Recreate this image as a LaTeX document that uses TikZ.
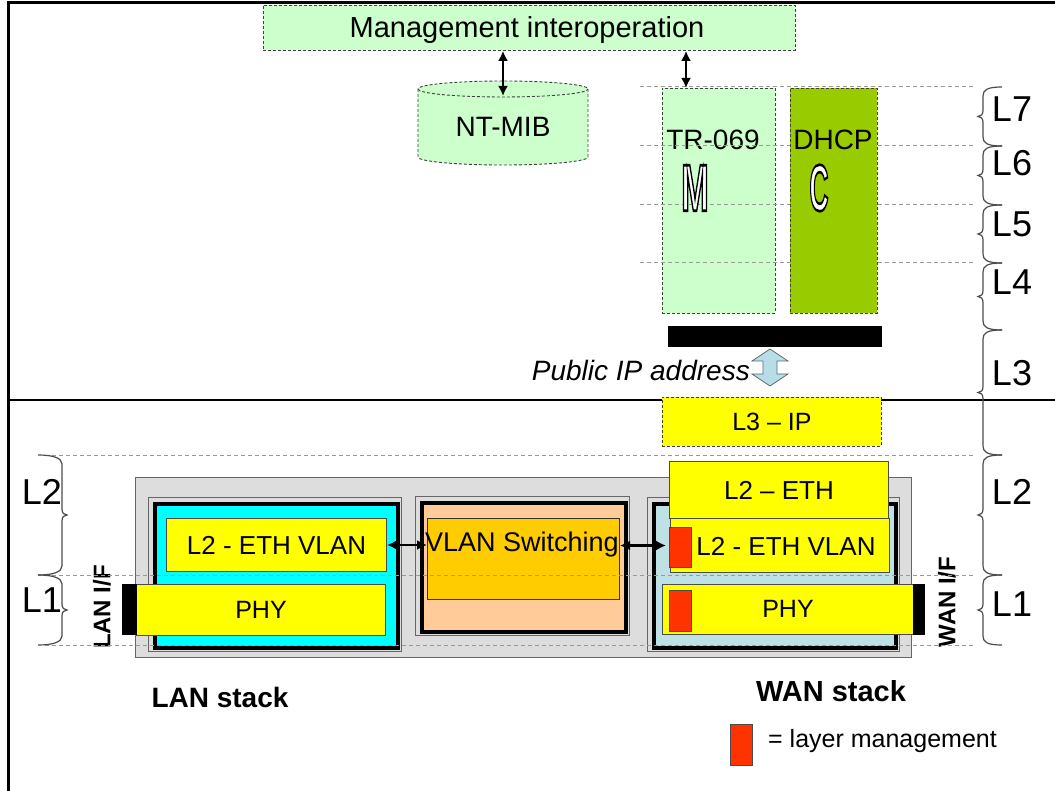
\documentclass[tikz,border=0pt]{standalone}
\usepackage{fontspec}
\setmainfont{Liberation Sans}
\usetikzlibrary{arrows.meta,calc}
\definecolor{lgreen}{HTML}{CCFFCC}
\definecolor{dgreen}{HTML}{99CC00}
\definecolor{yel}{HTML}{FFFF00}
\definecolor{cyanf}{HTML}{00FFFF}
\definecolor{peach}{HTML}{FFCC99}
\definecolor{goldf}{HTML}{FFCC00}
\definecolor{wanblue}{HTML}{BDE1E4}
\definecolor{boxgray}{HTML}{DDDDDD}
\definecolor{mred}{HTML}{FF3300}
\definecolor{fatblue}{HTML}{B7DDE8}
\definecolor{guide}{HTML}{999999}
\newcommand\myrbrace[2]{%
 \pgfmathsetmacro\bm{(#1+#2)/2}%
 \draw[brc] (1002,#1) .. controls (987,#1) and (983,#1+3) .. (983,#1+9) -- (983,\bm-6) .. controls (983,\bm-2) and (981,\bm) .. (978,\bm) .. controls (981,\bm) and (983,\bm+2) .. (983,\bm+6) -- (983,#2-9) .. controls (983,#2-3) and (987,#2) .. (1002,#2);}
\newcommand\mylbrace[2]{%
 \pgfmathsetmacro\bm{(#1+#2)/2}%
 \draw[brc] (38,#1) .. controls (53,#1) and (62,#1+3) .. (62,#1+9) -- (62,\bm-6) .. controls (62,\bm-2) and (64,\bm) .. (67,\bm) .. controls (64,\bm) and (62,\bm+2) .. (62,\bm+6) -- (62,#2-9) .. controls (62,#2-3) and (53,#2) .. (38,#2);}
\newcommand\outlinedletter[1]{\special{pdf:literal direct 2 Tr 2.6 w 1 g 0 G}#1\special{pdf:literal direct 0 Tr 1 w 0 g 0 G}}
\tikzset{
 box/.style={draw, inner sep=0pt, anchor=north west},
 dbox/.style={box, draw=black!75, dash pattern=on 3pt off 2pt, line width=0.9pt},
 ybox/.style={box, fill=yel, draw=black!70, line width=1pt},
 thinframe/.style={box, draw=black!60, line width=1pt},
 thickframe/.style={box, draw=black, line width=4pt},
 redsq/.style={box, fill=mred, draw=black!70, line width=1pt},
 blk/.style={box, fill=black, draw=black},
 txt/.style={inner sep=0pt, font=\fontsize{26}{30}\selectfont},
 big/.style={inner sep=0pt, font=\fontsize{28}{32}\selectfont},
 lay/.style={inner sep=0pt, font=\fontsize{36}{40}\selectfont},
 bld/.style={inner sep=0pt, font=\bfseries\fontsize{28}{32}\selectfont},
 bigl/.style={inner sep=0pt, font=\bfseries\fontsize{66}{66}\selectfont},
 dbl/.style={{Latex[length=10pt,width=10pt]}-{Latex[length=10pt,width=10pt]}, line width=2.4pt},
 guideln/.style={draw=guide, dash pattern=on 4pt off 3pt, line width=1pt},
 brc/.style={draw=black!70, line width=1.2pt},
}
\begin{document}
\begin{tikzpicture}[x=1pt,y=-1pt]
\useasboundingbox (0,0) rectangle (1055,791);

% management interoperation
\node[dbox, fill=lgreen, minimum width=532, minimum height=45] (mgmt) at (263,5) {};
\node[big, font=\fontsize{29}{32}\selectfont] (mgmtt) at (527,30) {Management interoperation};

% NT-MIB cylinder
\filldraw[draw=black!75, dash pattern=on 3pt off 2pt, line width=0.9pt, fill=lgreen]
 (418,89) -- (418,157) arc[start angle=180, end angle=0, x radius=85, y radius=8]
 -- (588,89) arc[start angle=0, end angle=-180, x radius=85, y radius=8] -- cycle;
\draw[draw=black!75, dash pattern=on 3pt off 2pt, line width=0.9pt]
 (418,89) arc[start angle=180, end angle=0, x radius=85, y radius=8];
\node[big] (mib) at (503,127) {NT-MIB};
\coordinate (mibtop) at (503,96);

% TR-069 box
\node[dbox, fill=lgreen, minimum width=113, minimum height=225] (tr) at (662,88) {};
\node[big] (trt) at (713,140) {TR-069};
\coordinate (trtop) at (686,88);

% upper guide lines
\foreach \yy in {87,146,205,263} \draw[guideln] (640,\yy) -- (975,\yy);

% DHCP box
\node[dbox, fill=dgreen, minimum width=87, minimum height=225] (dhcp) at (790,88) {};
\node[big] (dhcpt) at (833,140) {DHCP};

% outlined letters
\node[bigl, xscale=0.5] (mletter) at (695,188) {\outlinedletter{M}};
\node[bigl, xscale=0.4] (cletter) at (819,188) {\outlinedletter{C}};

% arrows to management
\draw[dbl] (mgmt.south -| mibtop) -- (mibtop);
\draw[dbl] (mgmt.south -| trtop) -- (trtop);

% black bar & public IP
\node[blk, minimum width=213, minimum height=20] (ipbar) at (668,326) {};
\node[big, font=\itshape\fontsize{28}{32}\selectfont, anchor=east] (pubip) at (750,370) {Public IP address};
\draw[fill=fatblue, draw=black!60, line width=0.8pt]
 (763,361) -- (752,361) -- (770,349) -- (788,361) -- (777,361) -- (777,374) -- (788,374) -- (770,386) -- (752,374) -- (763,374) -- cycle;

% frame
\draw[line width=2pt] (8,400) -- (1055,400);
\node[dbox, fill=yel, minimum width=219, minimum height=49] (l3ip) at (662,397) {};
\node[txt, font=\fontsize{25}{28}\selectfont] (l3ipt) at (l3ip.center) {L3 -- IP};
\draw[line width=3pt] (8,791) -- (8,3) -- (1055,3);

% lower stack
\node[box, fill=boxgray, draw=black!60, line width=1pt, minimum width=776, minimum height=180] (gray) at (135,477) {};
% LAN
\node[thinframe, fill=boxgray, minimum width=253, minimum height=154] (lanout) at (148,497) {};
\node[thickframe, fill=cyanf, minimum width=243, minimum height=144] (lanin) at (153,502) {};
% VLAN
\node[thinframe, fill=boxgray, minimum width=214, minimum height=139] (vout) at (415,496) {};
\node[thickframe, fill=peach, minimum width=204, minimum height=129] (vin) at (420,501) {};
\node[box, fill=goldf, draw=black!80, line width=1pt, minimum width=192, minimum height=81] (vsw) at (427,518) {};
\node[txt, font=\fontsize{27}{30}\selectfont] (vswt) at (522,545) {VLAN Switching};
% WAN
\node[thinframe, fill=boxgray, minimum width=252, minimum height=154] (wout) at (647,497) {};
\node[thickframe, fill=wanblue, minimum width=242, minimum height=144] (win) at (652,502) {};
\node[ybox, minimum width=219, minimum height=57] (eth) at (669,461) {};
\node[txt] (etht) at (eth.center) {L2 -- ETH};
\node[ybox, minimum width=219, minimum height=54] (wanvlan) at (670,518) {};
\node[txt] (wanvlant) at (786,546) {L2 - ETH VLAN};
\node[redsq, minimum width=22, minimum height=40] (red1) at (669,527) {};
\node[ybox, minimum width=251, minimum height=50] (wanphy) at (662,584) {};
\node[txt, font=\fontsize{25}{28}\selectfont] (wanphyt) at (788,609) {PHY};
\node[redsq, minimum width=22, minimum height=41] (red2) at (669,590) {};
\node[blk, minimum width=11, minimum height=50] (wanif) at (913,584) {};
\node[bld, font=\bfseries\fontsize{24}{28}\selectfont, rotate=90] (wanift) at (947,602) {WAN I/F};
% LAN inner
\node[ybox, minimum width=220, minimum height=53] (lanvlan) at (166,518) {};
\node[txt] (lanvlant) at (lanvlan.center) {L2 - ETH VLAN};
\node[ybox, minimum width=249, minimum height=51] (lanphy) at (136,584) {};
\node[txt, font=\fontsize{25}{28}\selectfont] (lanphyt) at (lanphy.center) {PHY};
\node[blk, minimum width=14, minimum height=50] (lanif) at (122,584) {};
\node[bld, font=\bfseries\fontsize{24}{28}\selectfont, rotate=90] (lanift) at (102,607) {LAN I/F};

% arrows between stacks
\draw[dbl] (lanvlan.east) -- (lanvlan.east -| vsw.west);
\draw[dbl] (wanvlan.west -| vsw.east) -- ($(wanvlan.west)+(-4,0)$);

% lower guide lines
\foreach \yy in {455,575,645} \draw[guideln] (45,\yy) -- (975,\yy);

% braces and layer labels
\myrbrace{87}{146}
\myrbrace{146}{205}
\myrbrace{205}{263}
\myrbrace{263}{330}
\myrbrace{330}{455}
\myrbrace{455}{575}
\myrbrace{575}{645}
\mylbrace{455}{575}
\mylbrace{575}{645}
\node[lay] (r7) at (1012,109) {L7};
\node[lay] (r6) at (1012,163) {L6};
\node[lay] (r5) at (1012,224) {L5};
\node[lay] (r4) at (1012,282) {L4};
\node[lay] (r3) at (1012,373) {L3};
\node[lay] (r2) at (1012,492) {L2};
\node[lay] (r1) at (1012,604) {L1};
\node[lay] (l2) at (42,492) {L2};
\node[lay] (l1) at (42,600) {L1};

% stack labels
\node[bld] (lanstack) at (220,697) {LAN stack};
\node[bld, font=\bfseries\fontsize{29}{32}\selectfont] (wanstack) at (831,691) {WAN stack};

% legend
\node[redsq, minimum width=22, minimum height=41] (legred) at (730,724) {};
\node[txt, font=\fontsize{25}{28}\selectfont, anchor=west] (legt) at (768,741) {= layer management};
\end{tikzpicture}
\end{document}
